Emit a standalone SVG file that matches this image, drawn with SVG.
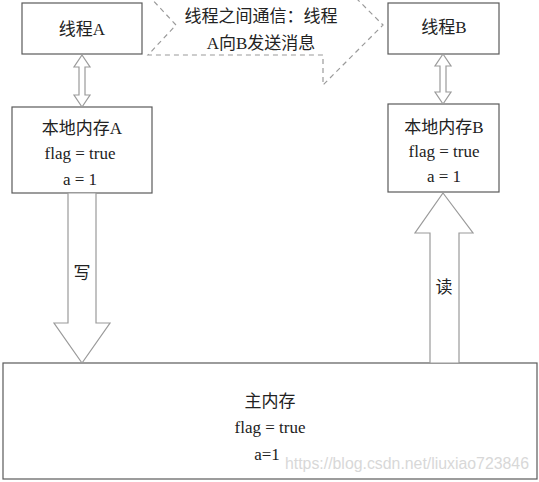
<svg xmlns="http://www.w3.org/2000/svg" width="539" height="482" viewBox="0 0 539 482">
<style>
.box{fill:#fff;stroke:#5a5a5a;stroke-width:1.2}
.arr{fill:#fff;stroke:#9a9a9a;stroke-width:1.2;stroke-linejoin:miter}
.dash{fill:none;stroke:#9a9a9a;stroke-width:1.2;stroke-dasharray:5 4}
.t{font-family:"Liberation Serif","Noto Sans CJK SC",serif;font-size:17px;fill:#222;text-anchor:middle}
.wm{font-family:"Liberation Sans",Arial,sans-serif;font-size:16px;fill:#d8d8d8}
</style>
<rect width="539" height="482" fill="#fff"/>
<g id="callout">
<polygon class="dash" points="148,-5 176,25 148,55 323,55 323,85 383,25 353,-5"/>
<text class="t" x="261" y="22">线程之间通信：线程</text>
<text class="t" x="261" y="49">A向B发送消息</text>
</g>
<g id="threadA">
<rect class="box" x="22" y="3" width="120" height="51"/>
<text class="t" x="82" y="35">线程A</text>
</g>
<g id="threadB">
<rect class="box" x="388" y="3" width="111" height="51"/>
<text class="t" x="444" y="33">线程B</text>
</g>
<g id="localA">
<rect class="box" x="12" y="107" width="140" height="86"/>
<text class="t" x="82" y="134">本地内存A</text>
<text class="t" x="80" y="159">flag = true</text>
<text class="t" x="80" y="185">a = 1</text>
</g>
<g id="localB">
<rect class="box" x="388" y="104" width="111" height="88"/>
<text class="t" x="444" y="133">本地内存B</text>
<text class="t" x="444" y="157">flag = true</text>
<text class="t" x="444" y="182">a = 1</text>
</g>
<g id="mainMemory">
<rect class="box" x="3" y="363" width="534" height="116"/>
<text class="t" x="270" y="407">主内存</text>
<text class="t" x="270" y="433">flag = true</text>
<text class="t" x="267" y="460">a=1</text>
</g>
<g id="connectors">
<polygon class="arr" points="82,55 90,67 85,67 85,95 90,95 82,107 74,95 79,95 79,67 74,67"/>
<polygon class="arr" points="443,54 451,66 446,66 446,92 451,92 443,104 435,92 440,92 440,66 435,66"/>
<polygon class="arr" points="68,193 96,193 96,323 110,323 82,363 54,323 68,323"/>
<polygon class="arr" points="443,193 473,233 459,233 459,363 430,363 430,233 415,233"/>
<text class="t" x="82" y="279">写</text>
<text class="t" x="444" y="293">读</text>
</g>
<text class="wm" x="285" y="469" textLength="244" lengthAdjust="spacingAndGlyphs">https://blog.csdn.net/liuxiao723846</text>
</svg>
